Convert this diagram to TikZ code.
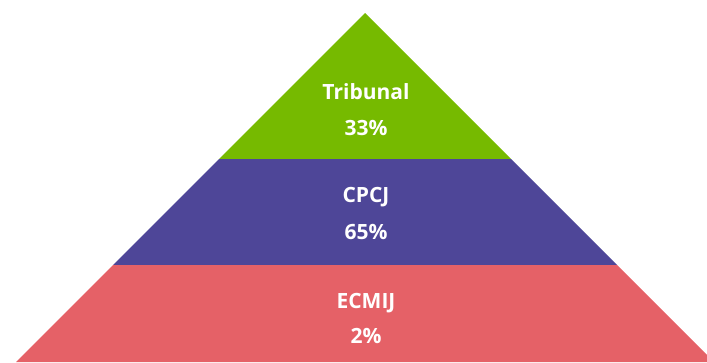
\documentclass[tikz,border=0pt]{standalone}
\usepackage{fontspec}
\setmainfont{Open Sans}
\usepackage{xcolor}
\usepackage{tikz}
\usetikzlibrary{positioning,calc}
\definecolor{tribgreen}{RGB}{118,186,0}
\definecolor{cpcjpurple}{RGB}{78,70,152}
\definecolor{ecmijred}{RGB}{229,97,103}
\tikzset{
  band/.style={draw=none},
  tierlabel/.style={anchor=base,text=white,inner sep=0pt,font=\fontsize{21}{25}\selectfont\bfseries}
}
\begin{document}
\begin{tikzpicture}[x=1pt,y=-1pt]
  \useasboundingbox (0,0) rectangle (707,362);
  \clip (0,0) rectangle (707,362);
  % pyramid tiers
  \coordinate (apex) at (365,13);
  \fill[band,tribgreen] (apex)--(219,159)--(511,159)--cycle;
  \fill[band,cpcjpurple] (219,159)--(113,265)--(617,265)--(511,159)--cycle;
  \fill[band,ecmijred] (113,265)--(16,362)--(714,362)--(617,265)--cycle;

  \node[tierlabel] (trib) at (366,99) {Tribunal};
  \node[tierlabel] (tribpct) at (366,135) {33\%};
  \node[tierlabel] (cpcj) at (366,202) {CPCJ};
  \node[tierlabel] (cpcjpct) at (366,239) {65\%};
  \node[tierlabel] (ecmij) at (366,308) {ECMIJ};
  \node[tierlabel] (ecmijpct) at (366,343) {2\%};
\end{tikzpicture}
\end{document}
